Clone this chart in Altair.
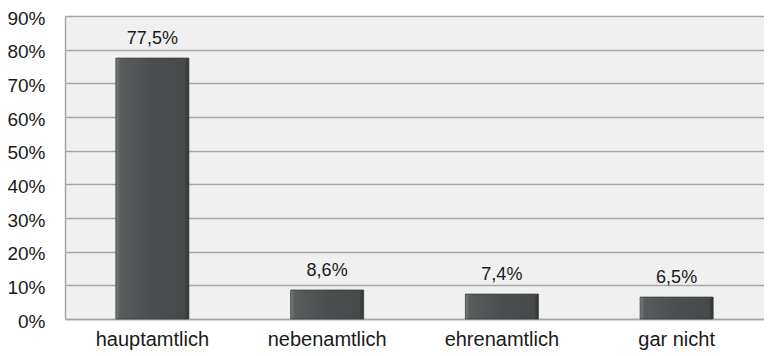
import altair as alt
import pandas as pd

categories = ["hauptamtlich", "nebenamtlich", "ehrenamtlich", "gar nicht"]
values = [77.5, 8.6, 7.4, 6.5]
y_ticks = [0, 0.1, 0.2, 0.3, 0.4, 0.5, 0.6, 0.7, 0.8, 0.9]

labels = [f"{v:.1f}".replace(".", ",") + "%" for v in values]
df = pd.DataFrame({"cat": categories, "val": [v / 100 for v in values], "label": labels})

FONT = "Liberation Sans"

x = alt.X("cat:N", sort=categories, title=None,
          axis=alt.Axis(labelAngle=0, labelFontSize=20, labelColor="#1a1a1a", labelFont=FONT,
                        ticks=False, domainColor="#a6a6a6", domainWidth=1.5, labelPadding=10,
                        grid=False, labelOverlap=False))
y = alt.Y("val:Q", title=None, scale=alt.Scale(domain=[0, 0.9], nice=False),
          axis=alt.Axis(values=y_ticks, tickCount=20, format=".0%", labelFontSize=19,
                        labelColor="#1a1a1a", labelFont=FONT, ticks=False, labelPadding=20,
                        labelOverlap=False, labelFlush=False, labelOffset=2,
                        domainColor="#a6a6a6", domainWidth=1.5, gridColor="#a6a6a6",
                        gridWidth=1.5, gridOpacity=1))

grad = alt.LinearGradient(
    gradient="linear", x1=0, x2=1, y1=0, y2=0,
    stops=[alt.GradientStop(color="#7a7d7e", offset=0),
           alt.GradientStop(color="#585c5d", offset=0.06),
           alt.GradientStop(color="#4b4f50", offset=0.5),
           alt.GradientStop(color="#464a4b", offset=0.94),
           alt.GradientStop(color="#2e3132", offset=1)])

base = alt.Chart(df).encode(x=x, y=y)
bars = base.mark_bar(size=73, color=grad, stroke="#3a3d3e", strokeWidth=0.8)
text = base.mark_text(baseline="bottom", dy=-10, fontSize=18, font=FONT, color="#1a1a1a").encode(
    text="label:N")

chart = (bars + text).properties(
    width=699, height=303,
    autosize=alt.AutoSizeParams(type="none"),
    padding={"left": 57, "top": 8, "right": 0, "bottom": 33},
    background="white",
).configure_view(fill="#f0f0f0", stroke=None)

chart.save("out.html", embed_options={"renderer": "svg", "actions": False})
